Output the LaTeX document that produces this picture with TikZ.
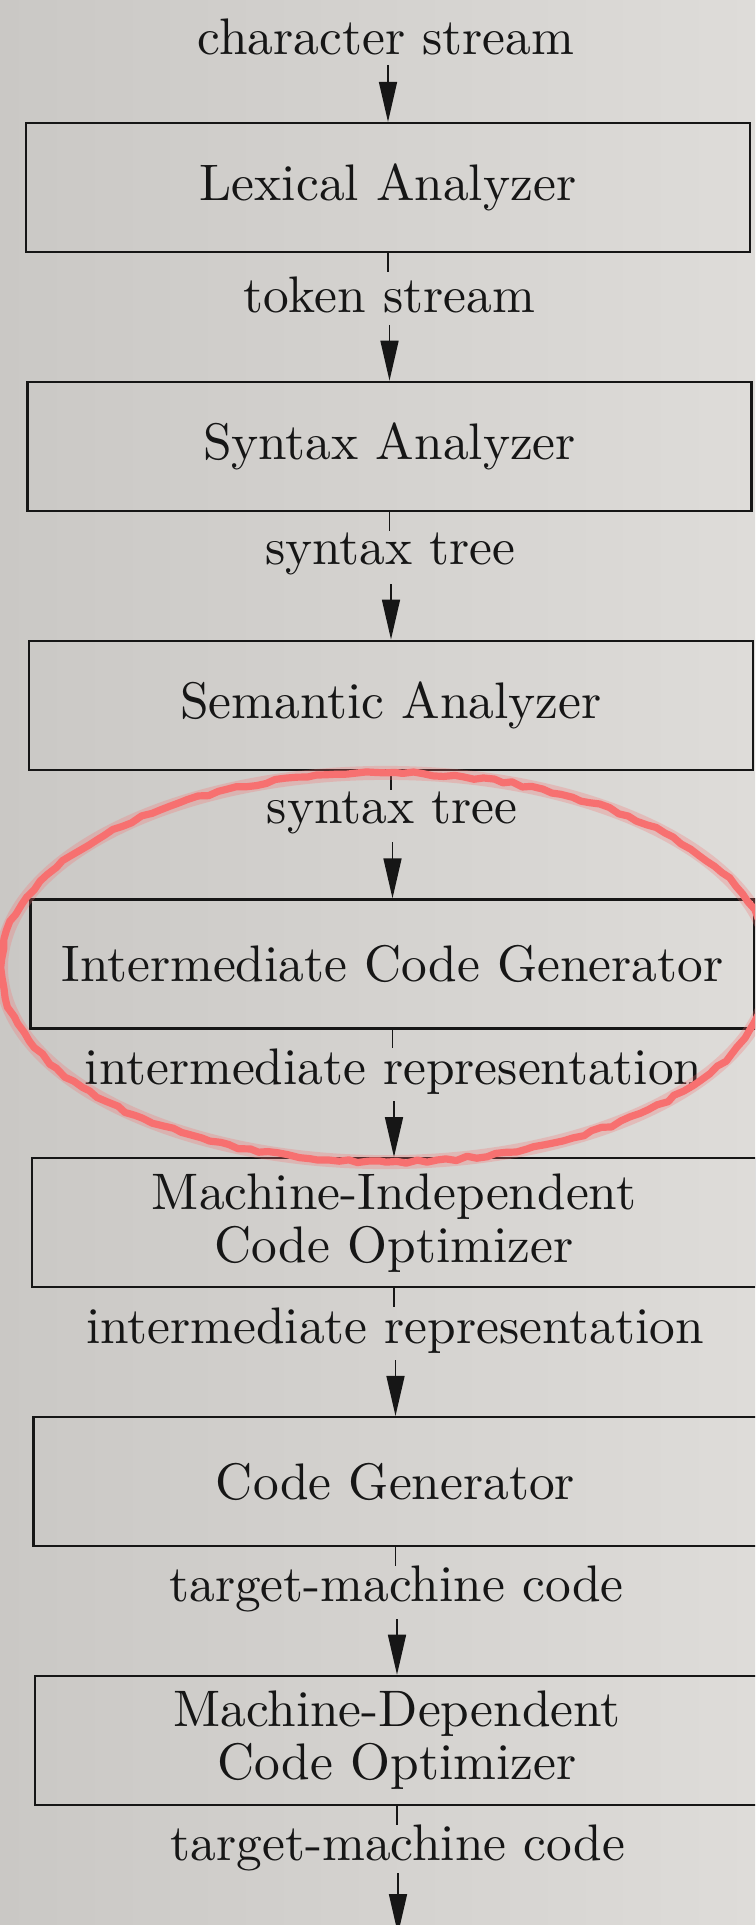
\documentclass[tikz,border=0pt]{standalone}
\usepackage{fontspec}
\setmainfont{lmroman10-regular}[Extension=.otf]
\usetikzlibrary{arrows.meta,decorations.pathmorphing}
\definecolor{paperL}{RGB}{202,200,197}
\definecolor{paperR}{RGB}{222,220,217}
\definecolor{ink}{RGB}{22,22,22}
\definecolor{marker}{RGB}{247,112,112}
\tikzset{
  stage/.style={draw=ink, line width=1.1pt, minimum width=362pt, minimum height=64.5pt,
    inner sep=0pt, align=center, text=ink},
  flowlabel/.style={inner sep=0pt, text=ink},
  tick/.style={draw=ink, line width=0.6pt},
  arr/.style={draw=ink, line width=0.8pt, -{Triangle[length=20pt,width=9pt]}},
  ring/.style={draw=marker, line width=3.6pt, line join=round,
    decorate, decoration={random steps, segment length=5pt, amplitude=0.8pt}},
  ringhalo/.style={draw=marker, line width=7pt, opacity=0.28}
}
\begin{document}
\begin{tikzpicture}[x=0.5pt, y=-0.5pt, font=\fontsize{25.7}{26.5}\selectfont]
  \useasboundingbox (0,0) rectangle (755,1925);
  \clip (0,0) rectangle (755,1925);
  \shade[left color=paperL, right color=paperR] (0,0) rectangle (755,1925);

  % compiler phases
  \node[stage] (lex) at (388,187.5)  {Lexical Analyzer};
  \node[stage] (syn) at (389.5,446.3) {Syntax Analyzer};
  \node[stage] (sem) at (391,705.1)  {Semantic Analyzer};
  \node[stage] (icg) at (392.5,963.9) {Intermediate Code Generator};
  \node[stage] (mio) at (394,1222.7) {Machine-Independent\\Code Optimizer};
  \node[stage] (cg)  at (395.5,1481.5) {Code Generator};
  \node[stage] (mdo) at (397,1740.3) {Machine-Dependent\\Code Optimizer};

  % data passed between phases
  \node[flowlabel] (l0) at (386,37)     {character stream};
  \node[flowlabel] (l1) at (389,295)    {token stream};
  \node[flowlabel] (l2) at (390.5,553.8) {syntax tree};
  \node[flowlabel] (l3) at (392,812.6)  {syntax tree};
  \node[flowlabel] (l4) at (393.5,1071.4) {intermediate representation};
  \node[flowlabel] (l5) at (395,1330.2) {intermediate representation};
  \node[flowlabel] (l6) at (396.5,1589) {target-machine code};
  \node[flowlabel] (l7) at (398,1847.8) {target-machine code};

  % arrow tails and tick ends
  \coordinate (a0) at (388,65);
  \coordinate (t1) at (388,272);     \coordinate (a1) at (389.5,325);
  \coordinate (t2) at (389.5,531);   \coordinate (a2) at (391,584);
  \coordinate (t3) at (391,790);     \coordinate (a3) at (392.5,842);
  \coordinate (t4) at (392.5,1048);  \coordinate (a4) at (394,1101);
  \coordinate (t5) at (394,1307);    \coordinate (a5) at (395.5,1360);
  \coordinate (t6) at (395.5,1566);  \coordinate (a6) at (397,1619);
  \coordinate (t7) at (397,1825);    \coordinate (a7) at (398,1873);
  \coordinate (out) at (398,1934);

  \draw[arr] (a0) -- (lex.north);
  \draw[tick] (lex.south) -- (t1);  \draw[arr] (a1) -- (syn.north);
  \draw[tick] (syn.south) -- (t2);  \draw[arr] (a2) -- (sem.north);
  \draw[tick] (sem.south) -- (t3);  \draw[arr] (a3) -- (icg.north);
  \draw[tick] (icg.south) -- (t4);  \draw[arr] (a4) -- (mio.north);
  \draw[tick] (mio.south) -- (t5);  \draw[arr] (a5) -- (cg.north);
  \draw[tick] (cg.south) -- (t6);   \draw[arr] (a6) -- (mdo.north);
  \draw[tick] (mdo.south) -- (t7);  \draw[arr] (a7) -- (out);

  % hand-drawn highlight round the intermediate code generator
  \pgfmathsetseed{7}
  \draw[ringhalo] (386,967.5) ellipse [x radius=192.5pt, y radius=97.3pt];
  \draw[ring] (386,967.5) ellipse [x radius=192.5pt, y radius=97.3pt];
\end{tikzpicture}
\end{document}
